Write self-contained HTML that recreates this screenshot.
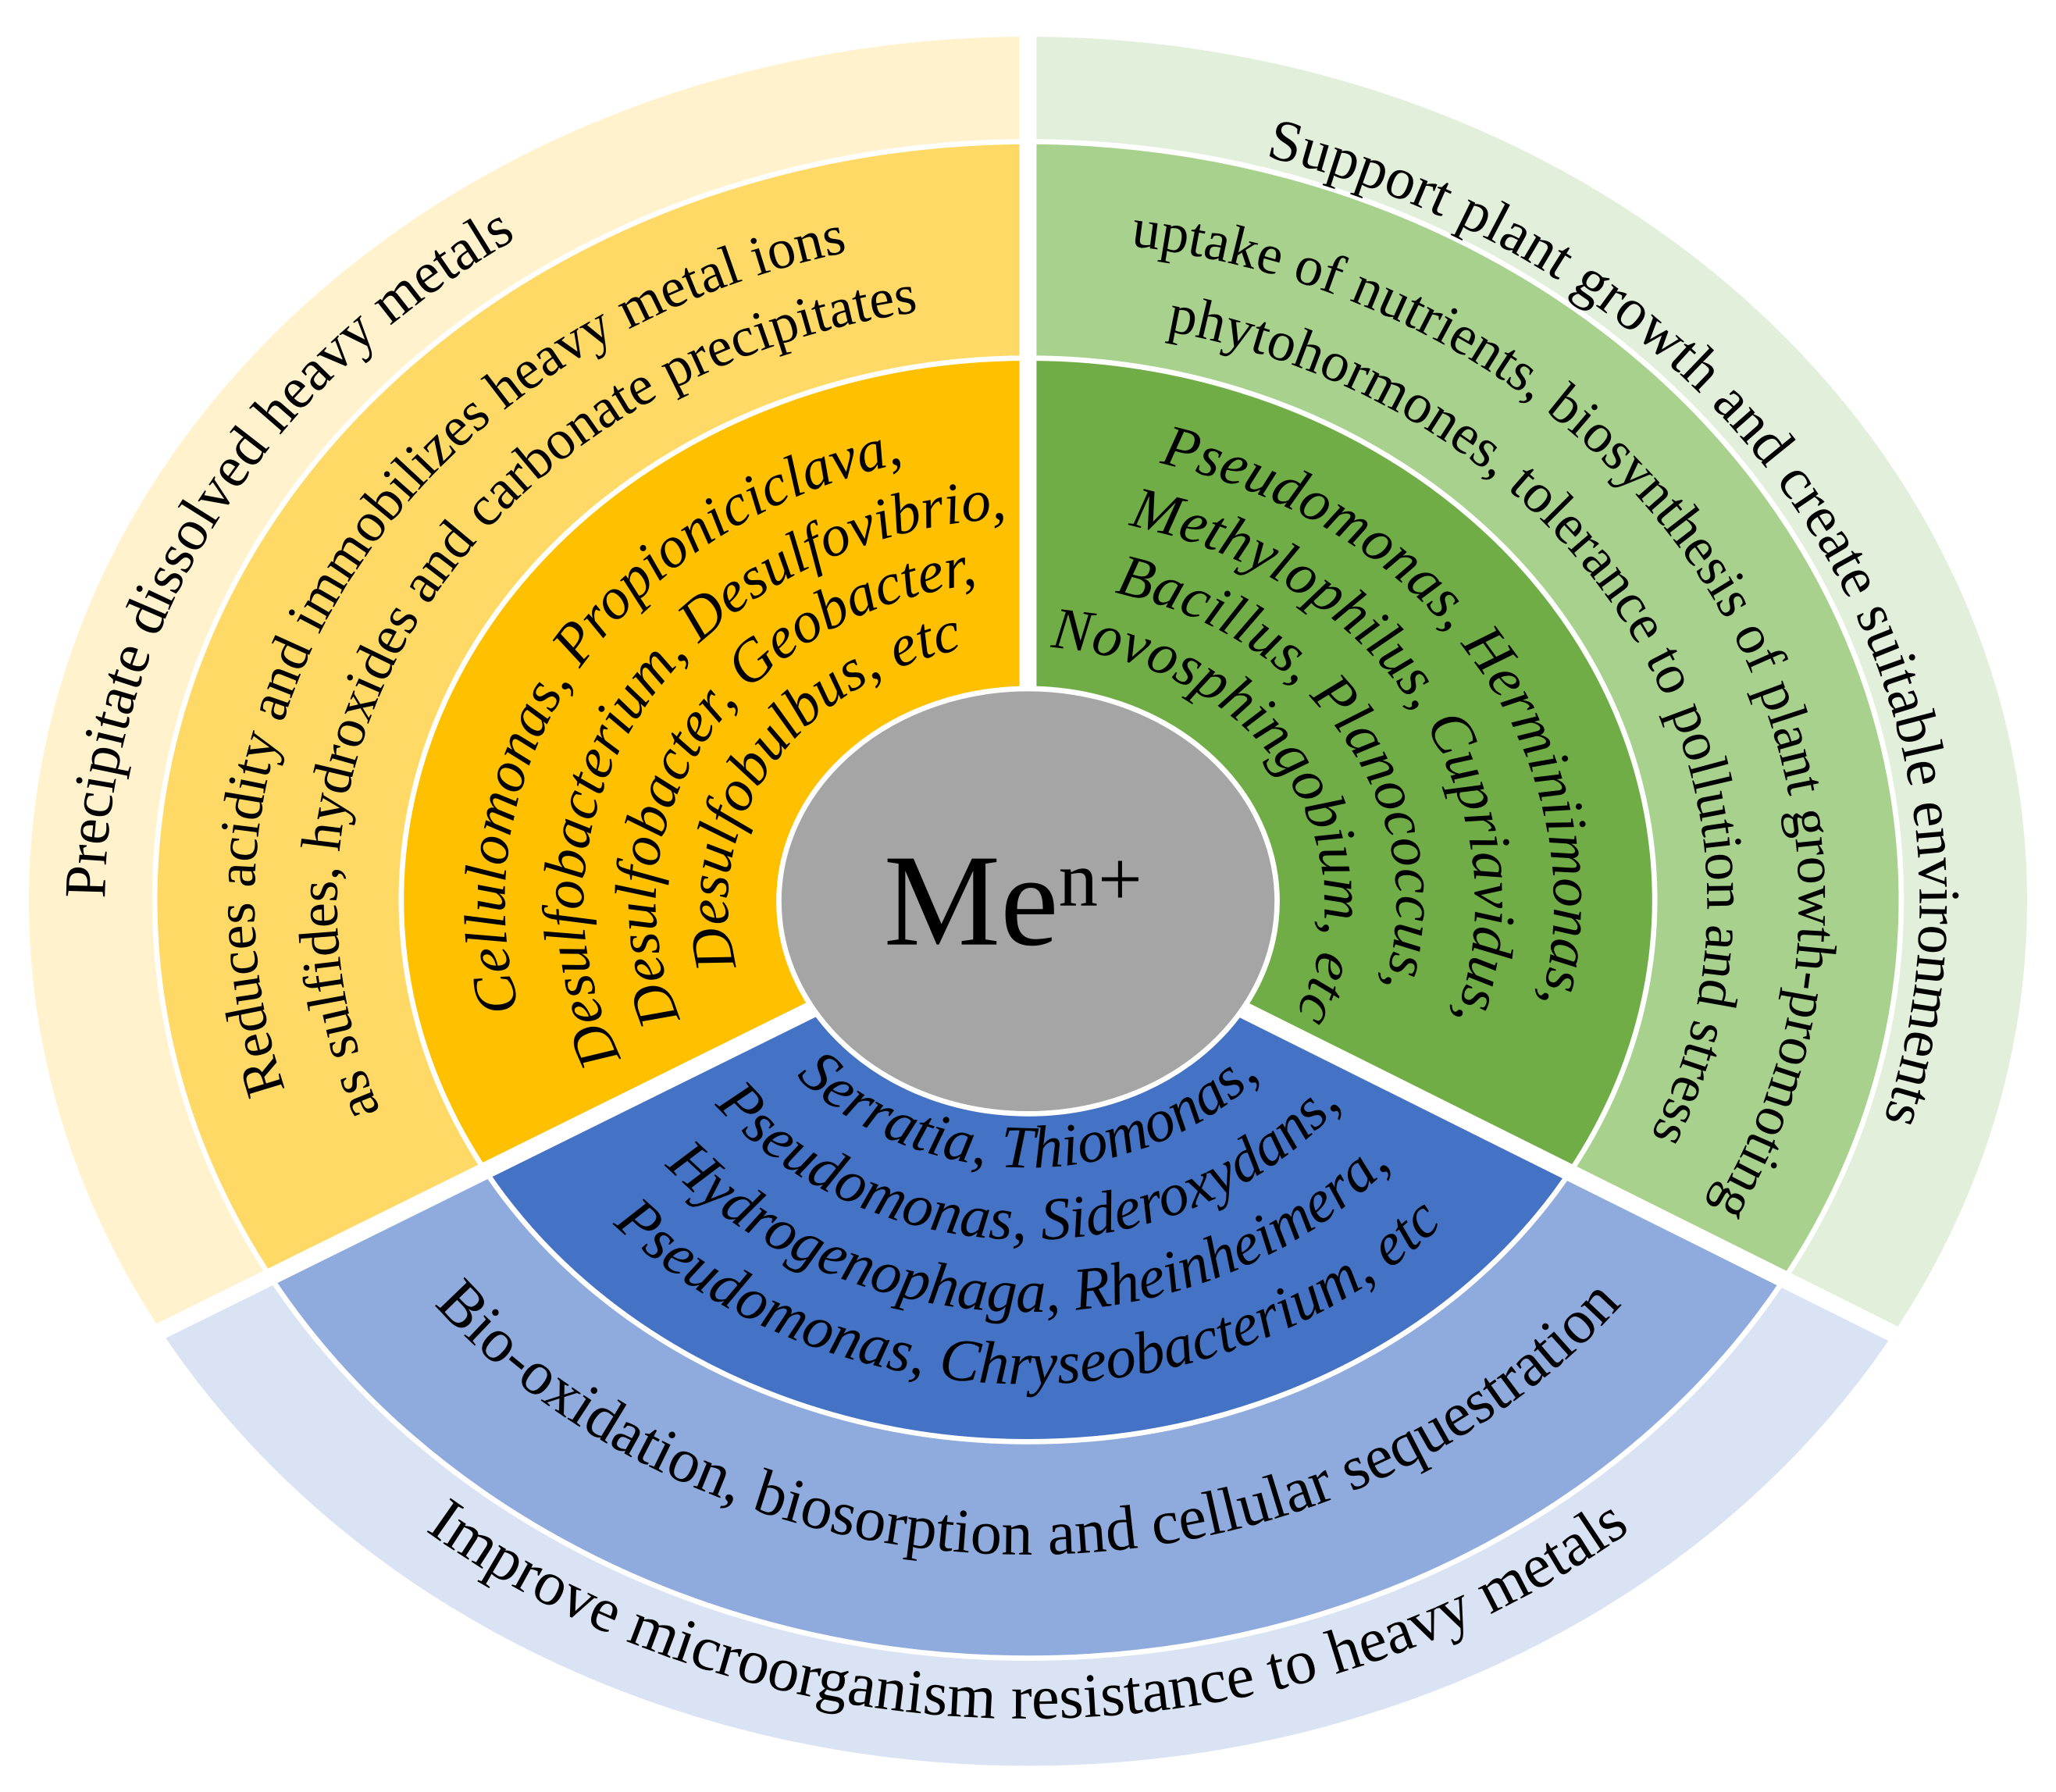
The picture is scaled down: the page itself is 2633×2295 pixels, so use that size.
<!DOCTYPE html>
<html><head><meta charset="utf-8"><style>
html,body{margin:0;padding:0;background:#fff;}
svg{display:block;}
text{font-family:"Liberation Serif","Times New Roman",serif;fill:#000;}
.i{font-style:italic;font-size:45px;}
.o{font-size:45px;}
.m{font-size:43px;}
</style></head><body>
<svg width="2633" height="2295" viewBox="0 0 1568 1366" preserveAspectRatio="none" xmlns="http://www.w3.org/2000/svg">
<defs>
<clipPath id="cL"><polygon points="784,688 784,-10 -10,-10 -200,1174"/></clipPath>
<clipPath id="cR"><polygon points="784,688 784,-10 1800,-10 1800,1194"/></clipPath>
<clipPath id="cB"><polygon points="784,688 -200,1174 -200,1400 1800,1400 1800,1194"/></clipPath>
<path id="pL0" d="M784,1296 A704,608 0 1 1 784,80 A704,608 0 1 1 784,1296"/>
<path id="pL1" d="M784,1198 A590,510 0 1 1 784,178 A590,510 0 1 1 784,1198"/>
<path id="pL2" d="M784,1144 A527,456 0 1 1 784,232 A527,456 0 1 1 784,1144"/>
<path id="pI1" d="M784,1033 A399,345 0 1 1 784,343 A399,345 0 1 1 784,1033"/>
<path id="pI2" d="M784,981 A339,293 0 1 1 784,395 A339,293 0 1 1 784,981"/>
<path id="pI3" d="M784,933 A284,245 0 1 1 784,443 A284,245 0 1 1 784,933"/>
<path id="pI4" d="M784,886 A229,198 0 1 1 784,490 A229,198 0 1 1 784,886"/>
<path id="pR0" d="M784,1278 A680,590 0 1 1 784,98 A680,590 0 1 1 784,1278"/>
<path id="pR1" d="M784,1193 A588,505 0 1 1 784,183 A588,505 0 1 1 784,1193"/>
<path id="pR2" d="M784,1133 A518,445 0 1 1 784,243 A518,445 0 1 1 784,1133"/>
<path id="pJ1" d="M784,1034 A401,346 0 1 1 784,342 A401,346 0 1 1 784,1034"/>
<path id="pJ2" d="M784,983 A341,295 0 1 1 784,393 A341,295 0 1 1 784,983"/>
<path id="pJ3" d="M784,931 A281,243 0 1 1 784,445 A281,243 0 1 1 784,931"/>
<path id="pJ4" d="M784,883 A226,195 0 1 1 784,493 A226,195 0 1 1 784,883"/>
<path id="pB0" d="M784,66 A720,622 0 1 0 784,1310 A720,622 0 1 0 784,66"/>
<path id="pB1" d="M784,191 A575,497 0 1 0 784,1185 A575,497 0 1 0 784,191"/>
<path id="pK1" d="M784,486 A234,202 0 1 0 784,890 A234,202 0 1 0 784,486"/>
<path id="pK2" d="M784,431 A298,257 0 1 0 784,945 A298,257 0 1 0 784,431"/>
<path id="pK3" d="M784,376 A361,312 0 1 0 784,1000 A361,312 0 1 0 784,376"/>
<path id="pK4" d="M784,321 A425,367 0 1 0 784,1055 A425,367 0 1 0 784,321"/>
</defs>

<g clip-path="url(#cL)" stroke="#fff" stroke-width="4">
<ellipse cx="784" cy="687" rx="762" ry="659" fill="#FFF2CC" stroke="none"/>
<ellipse cx="784" cy="686" rx="666" ry="578" fill="#FFD966"/>
<ellipse cx="784" cy="686" rx="478" ry="413" fill="#FFC000"/>
</g>
<g clip-path="url(#cR)" stroke="#fff" stroke-width="4">
<ellipse cx="784" cy="687" rx="762" ry="659" fill="#E2EFDA" stroke="none"/>
<ellipse cx="784" cy="686" rx="666" ry="578" fill="#A9D18E"/>
<ellipse cx="784" cy="686" rx="478" ry="413" fill="#70AD47"/>
</g>
<g clip-path="url(#cB)" stroke="#fff" stroke-width="4">
<ellipse cx="784" cy="687" rx="762" ry="659" fill="#DAE3F3" stroke="none"/>
<ellipse cx="784" cy="686" rx="666" ry="578" fill="#8FAADC"/>
<ellipse cx="784" cy="686" rx="478" ry="413" fill="#4472C4"/>
</g>
<g stroke="#fff" stroke-width="13">
<line x1="784" y1="688" x2="784" y2="0"/>
<line x1="784" y1="688" x2="-200" y2="1174"/>
<line x1="784" y1="688" x2="1800" y2="1194"/>
</g>
<ellipse cx="784" cy="687" rx="190" ry="162" fill="#A5A5A5" stroke="#fff" stroke-width="4"/>
<text x="674" y="720" style="font-size:100px">Me<tspan dy="-30" style="font-size:60px">n+</tspan></text>

<text class="o"><textPath href="#pL0" startOffset="32.6%" text-anchor="middle">Precipitate dissolved heavy metals</textPath></text>
<text class="m"><textPath href="#pL1" startOffset="33.4%" text-anchor="middle">Reduces acidity and immobilizes heavy metal ions</textPath></text>
<text class="m"><textPath href="#pL2" startOffset="33.5%" text-anchor="middle">as sulfides, hydroxides and carbonate precipitates</textPath></text>
<text class="i"><textPath href="#pI1" startOffset="33.7%" text-anchor="middle">Cellulomonas, Propioniciclava,</textPath></text>
<text class="i"><textPath href="#pI2" startOffset="34%" text-anchor="middle">Desulfobacterium, Desulfovibrio,</textPath></text>
<text class="i"><textPath href="#pI3" startOffset="33.6%" text-anchor="middle">Desulfobacter, Geobacter,</textPath></text>
<text class="i"><textPath href="#pI4" startOffset="33.8%" text-anchor="middle">Desulfobulbus, etc</textPath></text>

<text class="o"><textPath href="#pR0" startOffset="66.9%" text-anchor="middle">Support plant growth and create suitable environments</textPath></text>
<text class="m"><textPath href="#pR1" startOffset="67.2%" text-anchor="middle">uptake of nutrients, biosynthesis of plant growth-promoting</textPath></text>
<text class="m"><textPath href="#pR2" startOffset="67.3%" text-anchor="middle">phytohormones, tolerance to pollution and stress</textPath></text>
<text class="i"><textPath href="#pJ1" startOffset="66.3%" text-anchor="middle">Pseudomonas, Herminiimonas,</textPath></text>
<text class="i"><textPath href="#pJ2" startOffset="66.7%" text-anchor="middle">Methylophilus, Cupriavidus,</textPath></text>
<text class="i"><textPath href="#pJ3" startOffset="66.5%" text-anchor="middle">Bacillus, Planococcus,</textPath></text>
<text class="i"><textPath href="#pJ4" startOffset="66.5%" text-anchor="middle">Novosphingobium, etc</textPath></text>

<text style="font-size:48px"><textPath href="#pB0" startOffset="50%" text-anchor="middle">Improve microorganism resistance to heavy metals</textPath></text>
<text style="font-size:48px"><textPath href="#pB1" startOffset="50%" text-anchor="middle">Bio-oxidation, biosorption and cellular sequestration</textPath></text>
<text class="i" style="font-size:46px"><textPath href="#pK1" startOffset="50%" text-anchor="middle">Serratia, Thiomonas,</textPath></text>
<text class="i" style="font-size:46px"><textPath href="#pK2" startOffset="50%" text-anchor="middle">Pseudomonas, Sideroxydans,</textPath></text>
<text class="i" style="font-size:46px"><textPath href="#pK3" startOffset="50%" text-anchor="middle">Hydrogenophaga, Rheinheimera,</textPath></text>
<text class="i" style="font-size:46px"><textPath href="#pK4" startOffset="50%" text-anchor="middle">Pseudomonas, Chryseobacterium, etc</textPath></text>
</svg>
</body></html>
